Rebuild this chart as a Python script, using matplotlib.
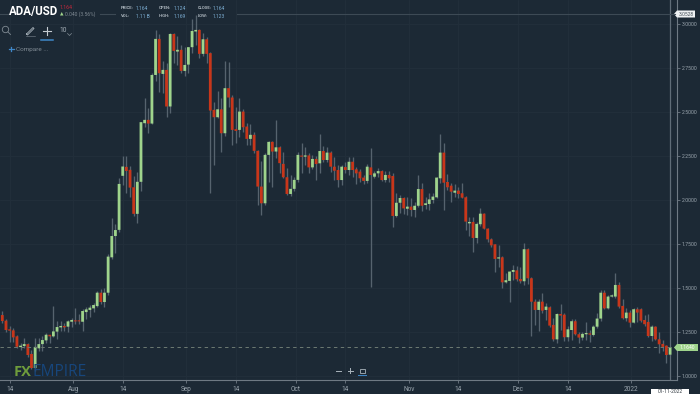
import matplotlib
matplotlib.use('Agg')
import matplotlib.pyplot as plt
from matplotlib.patches import Polygon, Rectangle, Circle
import numpy as np
import pandas as pd

#Daily ADA/USD candles
opens = [1.346,1.314,1.265,1.259,1.225,1.164,1.170,1.181,1.125,1.045,
         1.157,1.181,1.202,1.234,1.225,1.252,1.276,1.284,1.280,1.308,
         1.316,1.316,1.308,1.363,1.375,1.384,1.397,1.473,1.420,1.473,
         1.674,1.795,1.830,2.137,2.188,2.171,2.072,1.921,2.103,2.436,
         2.455,2.434,2.710,2.915,2.716,2.739,2.531,2.943,2.843,2.853,
         2.733,2.769,2.868,2.957,2.966,2.830,2.913,2.834,2.512,2.470,
         2.515,2.379,2.635,2.582,2.402,2.398,2.502,2.417,2.347,2.370,
         2.279,2.076,1.981,2.256,2.330,2.275,2.299,2.205,2.129,2.034,
         2.063,2.114,2.252,2.246,2.253,2.185,2.233,2.208,2.278,2.227,
         2.269,2.189,2.170,2.113,2.187,2.170,2.217,2.174,2.161,2.127,
         2.108,2.185,2.132,2.151,2.164,2.113,2.142,2.136,1.909,1.984,
         2.011,1.950,1.962,1.943,1.967,2.062,1.971,1.977,2.000,2.015,
         2.123,2.269,2.102,2.081,2.041,2.053,2.038,2.015,1.867,1.875,
         1.784,1.862,1.922,1.837,1.776,1.748,1.667,1.674,1.532,1.540,
         1.591,1.600,1.551,1.538,1.720,1.555,1.422,1.375,1.422,1.375,
         1.390,1.290,1.208,1.352,1.348,1.220,1.261,1.311,1.237,1.218,
         1.237,1.242,1.233,1.280,1.326,1.473,1.384,1.451,1.451,1.517,
         1.398,1.328,1.360,1.303,1.379,1.379,1.318,1.307,1.227,1.280,
         1.208,1.182,1.172,1.121]
closes = [1.312,1.261,1.257,1.219,1.166,1.172,1.181,1.119,1.045,1.165,
          1.181,1.204,1.234,1.225,1.253,1.278,1.284,1.276,1.310,1.318,
          1.310,1.310,1.369,1.378,1.388,1.403,1.473,1.420,1.473,1.678,
          1.795,1.829,2.091,2.190,2.165,2.070,1.921,2.103,2.442,2.455,
          2.434,2.710,2.915,2.720,2.739,2.531,2.943,2.847,2.853,2.733,
          2.767,2.868,2.960,2.966,2.830,2.913,2.830,2.508,2.470,2.515,
          2.379,2.635,2.582,2.398,2.392,2.502,2.413,2.347,2.370,2.279,
          2.076,1.981,2.256,2.330,2.275,2.299,2.209,2.129,2.034,2.063,
          2.114,2.256,2.246,2.253,2.185,2.233,2.204,2.278,2.227,2.269,
          2.189,2.166,2.113,2.189,2.170,2.217,2.170,2.151,2.123,2.108,
          2.189,2.142,2.151,2.164,2.113,2.142,2.123,1.909,1.984,2.011,
          1.952,1.962,1.943,1.967,2.062,1.967,1.981,2.003,2.019,2.127,
          2.269,2.098,2.072,2.047,2.053,2.034,2.013,1.877,1.875,1.784,
          1.864,1.922,1.837,1.776,1.742,1.665,1.674,1.532,1.544,1.593,
          1.602,1.549,1.538,1.720,1.555,1.422,1.375,1.422,1.371,1.394,
          1.286,1.208,1.352,1.343,1.220,1.265,1.311,1.237,1.218,1.239,
          1.244,1.235,1.280,1.326,1.473,1.384,1.451,1.458,1.517,1.394,
          1.328,1.360,1.303,1.379,1.360,1.314,1.294,1.227,1.280,1.208,
          1.180,1.165,1.119,1.164]
highs = [1.371,1.322,1.284,1.270,1.233,1.185,1.214,1.185,1.148,1.216,
         1.214,1.227,1.246,1.234,1.397,1.312,1.312,1.299,1.318,1.331,
         1.384,1.352,1.378,1.390,1.403,1.413,1.485,1.492,1.498,1.693,
         1.900,1.863,2.125,2.247,2.247,2.193,2.137,2.161,2.445,2.578,
         2.521,2.720,2.966,2.943,2.792,2.777,2.947,2.947,2.932,2.881,
         2.871,2.871,3.030,3.053,2.970,2.951,2.925,2.843,2.559,2.621,
         2.578,2.792,2.781,2.597,2.527,2.578,2.515,2.436,2.432,2.388,
         2.284,2.224,2.265,2.337,2.337,2.455,2.307,2.275,2.180,2.142,
         2.133,2.275,2.322,2.303,2.269,2.255,2.250,2.373,2.306,2.299,
         2.280,2.246,2.199,2.199,2.217,2.242,2.246,2.189,2.174,2.142,
         2.204,2.293,2.166,2.180,2.170,2.166,2.166,2.151,2.038,2.028,
         2.019,2.015,2.009,1.986,2.142,2.098,2.015,2.038,2.038,2.132,
         2.375,2.325,2.147,2.094,2.091,2.072,2.098,2.022,1.901,1.905,
         1.877,1.953,1.924,1.839,1.782,1.750,1.744,1.682,1.583,1.598,
         1.631,1.625,1.617,1.754,1.725,1.561,1.436,1.436,1.473,1.417,
         1.398,1.328,1.356,1.409,1.356,1.284,1.322,1.322,1.252,1.252,
         1.305,1.261,1.290,1.356,1.489,1.489,1.460,1.466,1.587,1.532,
         1.436,1.384,1.375,1.384,1.390,1.384,1.347,1.350,1.290,1.284,
         1.252,1.205,1.176,1.167]
lows = [1.299,1.250,1.195,1.195,1.157,1.147,1.157,1.110,1.040,1.030,
        1.144,1.144,1.189,1.189,1.219,1.212,1.257,1.257,1.248,1.280,
        1.295,1.295,1.257,1.323,1.337,1.361,1.390,1.409,1.394,1.460,
        1.666,1.697,1.818,2.085,2.038,2.019,1.906,1.870,2.048,2.413,
        2.383,2.432,2.678,2.616,2.606,2.474,2.496,2.777,2.767,2.724,
        2.705,2.724,2.837,2.881,2.805,2.815,2.777,2.042,2.199,2.464,
        2.275,2.364,2.527,2.313,2.322,2.356,2.388,2.313,2.313,2.265,
        1.972,1.915,1.972,2.100,2.072,2.237,2.152,2.123,2.029,2.023,
        2.053,2.104,2.151,2.198,2.151,2.174,2.113,2.151,2.217,2.217,
        2.161,2.113,2.072,2.085,2.151,2.142,2.132,2.091,2.104,2.091,
        2.098,1.506,2.123,2.132,2.109,2.104,2.104,1.848,1.901,1.924,
        1.920,1.914,1.909,1.901,1.962,1.939,1.947,1.943,1.981,2.009,
        2.094,1.943,2.056,1.986,2.015,2.009,2.009,1.829,1.795,1.706,
        1.754,1.852,1.833,1.763,1.735,1.591,1.621,1.498,1.526,1.422,
        1.545,1.542,1.530,1.517,1.523,1.229,1.290,1.258,1.356,1.318,
        1.280,1.201,1.189,1.261,1.201,1.201,1.205,1.233,1.186,1.205,
        1.205,1.195,1.227,1.271,1.314,1.379,1.379,1.447,1.445,1.384,
        1.322,1.314,1.280,1.299,1.309,1.309,1.284,1.220,1.201,1.205,
        1.129,1.144,1.072,1.117]

dates = pd.date_range(end='2022-01-11', periods=len(opens))
tick_dates = ['2021-07-14','2021-08-01','2021-08-14','2021-09-01','2021-09-14','2021-10-01',
              '2021-10-14','2021-11-01','2021-11-14','2021-12-01','2021-12-14','2022-01-01']
tick_labels = ['14','Aug','14','Sep','14','Oct','14','Nov','14','Dec','14','2022']
price_ticks = [1.0,1.25,1.5,1.75,2.0,2.25,2.5,2.75,3.0]

BG = '#1c2935'
GRID = '#222f3b'
UP = '#9fd48c'
DOWN = '#c8361a'
WICK = '#56636e'
AXIS = '#6f7a84'
TXT = '#9aa5ae'
LAST = 1.164
PEAK = 3.0528

fig = plt.figure(figsize=(7, 3.94), dpi=100, facecolor=BG)
ax = fig.add_axes([0, 14/394, 677/700, 380/394])
ax.set_facecolor(BG)

x = np.arange(len(opens))
o, h, l, c = map(np.array, (opens, highs, lows, closes))
up = c >= o
ax.vlines(x, l, h, color=WICK, lw=0.95, zorder=2)
bars = ax.bar(x, np.abs(c-o), bottom=np.minimum(o, c), width=0.76,
              color=np.where(up, UP, DOWN), lw=0, zorder=3)
for b in bars:
    b.set_snap(False)

ax.set_xlim(-0.63, 184.9)
ax.set_ylim(0.977, 3.136)
#month ticks sit a little left of their day
tick_pos = [(pd.Timestamp(d) - dates[0]).days - (0 if t == '14' else 0.6)
            for d, t in zip(tick_dates, tick_labels)]
ax.set_xticks(tick_pos)
ax.set_xticklabels(tick_labels, fontsize=4.7, color=TXT, family='Roboto')
ax.set_yticks(price_ticks)
ax.set_yticklabels([f'{p:.4f}' for p in price_ticks], fontsize=3.7, color=TXT, family='Roboto')
ax.yaxis.tick_right()
ax.tick_params(axis='x', length=2, width=0.6, color=AXIS, pad=2.2)
ax.tick_params(axis='y', length=2, width=0.6, color=AXIS, pad=1.5)
ax.grid(True, color=GRID, lw=0.6, zorder=0)
ax.set_axisbelow(True)
for s in ['top', 'left']:
    ax.spines[s].set_visible(False)
for s in ['bottom', 'right']:
    ax.spines[s].set_color(AXIS)
    ax.spines[s].set_linewidth(0.8)

#Last price and crosshair
ax.axhline(LAST, color='#6d7a72', lw=0.7, ls=(0, (3.5, 3.5)), zorder=4)
ax.axvline(x[-1], color='#5f6c77', lw=0.9, zorder=1)

#Overlay in pixels for the app's chrome
ov = fig.add_axes([0, 0, 1, 1], facecolor='none')
ov.set_xlim(0, 700)
ov.set_ylim(394, 0)
ov.axis('off')

for x0, x1 in [(0, 8), (100, 115), (237, 675)]:
    ov.plot([x0, x1], [14, 14], color='#3d4a55', lw=0.8)

ov.text(9, 11.5, 'ADA/USD', color='white', fontsize=8.3, fontweight='bold',
        family='Roboto', va='center', ha='left')
ov.text(60, 7.5, '1.164', color='#c8283c', fontsize=3.7, family='Roboto', va='center')
ov.add_patch(Polygon([[60, 15.5], [63.5, 15.5], [61.75, 12]], color=UP, lw=0))
ov.text(65, 13.8, '0.040 (3.56%)', color='#7f8a93', fontsize=3.6, family='Roboto', va='center')

header = [(121, 8, 'PRICE:', '1.164'), (121, 16, 'VOL:', '1.11 B'),
          (159, 8, 'OPEN:', '1.124'), (159, 16, 'HIGH:', '1.169'),
          (198, 8, 'CLOSE:', '1.164'), (198, 16, 'LOW:', '1.123')]
for hx, hy, name, val in header:
    ov.text(hx, hy, name, color='#aab4bc', fontsize=3.1, fontweight='bold', family='Roboto', va='center')
    ov.text(hx+15, hy, val, color='#7fb2d8', fontsize=3.5, family='Roboto', va='center')

#Toolbar icons
ov.add_patch(Circle((5.5, 29.5), 3.2, fill=False, ec='#7f8a93', lw=0.6))
ov.plot([8, 10.5], [32, 34.5], color='#7f8a93', lw=0.6)
ov.plot([26.5, 33, 34, 27.5, 26.5], [34, 27.5, 28.5, 35, 34], color='#aab4bc', lw=0.6)
ov.plot([26, 35], [35.5, 35.5], color='#7f8a93', lw=0.4)
ov.plot([43, 51], [31, 31], color='#c5ccd2', lw=0.8)
ov.plot([47, 47], [27, 35], color='#c5ccd2', lw=0.8)
ov.plot([41, 53], [39.5, 39.5], color='#3f87c8', lw=1.1)
ov.text(59, 30.5, '10', color='#aab4bc', fontsize=4.8, family='Roboto', va='center')
ov.plot([67.5, 69.5, 71.5], [33.5, 35.5, 33.5], color='#7f8a93', lw=0.5)
ov.plot([9, 13.5], [49, 49], color='#3f87c8', lw=0.9)
ov.plot([11.2, 11.2], [46.8, 51.2], color='#3f87c8', lw=0.9)
ov.text(16.5, 49.5, 'Compare ...', color='#7f8a93', fontsize=4.6, family='Roboto', va='center')

#Zoom controls
ov.plot([335.5, 340.5], [370.5, 370.5], color='#aab4bc', lw=0.7)
ov.plot([347.5, 352.5], [370.5, 370.5], color='#aab4bc', lw=0.7)
ov.plot([350, 350], [368, 373], color='#aab4bc', lw=0.7)
ov.add_patch(Rectangle((359.5, 368.5), 5, 4, fill=False, ec='#aab4bc', lw=0.6))
ov.plot([358, 366], [374.5, 374.5], color='#3f87c8', lw=0.7)

#Logo
ov.text(14, 372.5, 'FX', color='#6f9d3c', fontsize=10.5, fontweight='bold', family='Open Sans', va='center')
ov.text(33, 372.5, 'EMPIRE', color='#17467c', fontsize=11.2, family='Open Sans', va='center')

#Price flags
ov.add_patch(Polygon([[674, 14], [677, 10.5], [695, 10.5], [695, 17.5], [677, 17.5]], color='#eef1f3', lw=0))
ov.text(686, 14.2, f'{PEAK:.4f}', color='#444f58', fontsize=3.6, family='Roboto', ha='center', va='center')
ov.add_patch(Polygon([[674, 347.5], [677, 344], [698, 344], [698, 351], [677, 351]], color=UP, lw=0))
ov.text(687, 347.7, f'{LAST:.4f}', color='white', fontsize=3.6, family='Roboto', ha='center', va='center')
ov.add_patch(Rectangle((651, 388.5), 38, 6, color='white', lw=0))
ov.text(670, 391.5, '01-11-2022', color='#333b42', fontsize=3.6, family='Roboto', ha='center', va='center')

plt.savefig('out.png', dpi=100, facecolor=BG)
